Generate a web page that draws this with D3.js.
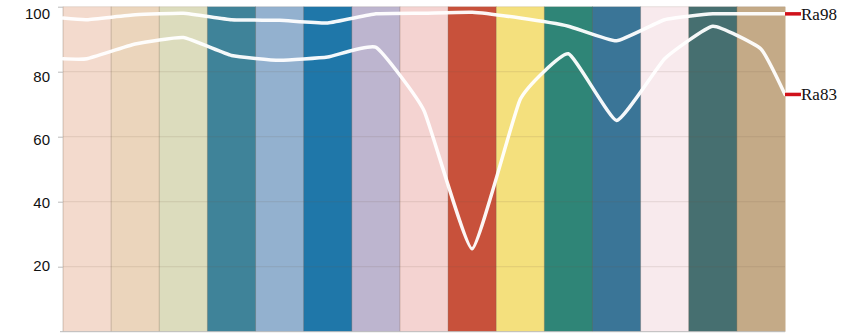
<!DOCTYPE html>
<html>
<head>
<meta charset="utf-8">
<script src="https://cdn.jsdelivr.net/npm/d3@7"></script>
<style>
  body { margin: 0; background: #fff; }
  svg { display: block; }
</style>
</head>
<body>
<svg></svg>
<script>
// colour samples, one band each
var samples = ['s1', 's2', 's3', 's4', 's5', 's6', 's7', 's8', 's9', 's10', 's11', 's12', 's13', 's14', 's15'];
var sampleColors = ['#f3dacd', '#ebd5bc', '#dcdcbd', '#3f8399', '#93b1cf', '#1f77a9', '#bdb5cf', '#f4d3d1',
    '#c8513b', '#f4e07d', '#2f8577', '#3a7597', '#f8eaed', '#466f70', '#c4aa87'];

// rendering index per sample (band centre), plus value at the plot edges
var ra98 = [96, 97.5, 98, 96, 95.8, 95, 97.8, 98, 98.3, 96.5, 94, 89.5, 96, 97.8, 97.8];
var ra98Edges = [96.5, 97.8];
var ra83 = [84, 88.5, 90.5, 85, 83.5, 84.5, 87.5, 68, 25.5, 71.5, 85.5, 65, 84, 94, 87];
var ra83Edges = [84, 73];

var yTicks = [20, 40, 60, 80, 100];
var seriesNames = ['Ra98', 'Ra83'];

var svgWidth = 842, svgHeight = 336;
var svg = d3.select('svg').attr('width', svgWidth).attr('height', svgHeight);

var x = d3.scaleBand().domain(samples).range([63, 785]).paddingInner(0).paddingOuter(0);
var y = d3.scaleLinear().domain([0, 100]).range([331.7, 6.7]);
// tick labels sit a little off their ticks in the original
var yLabel = d3.scaleLinear().domain([20, 100]).range([266, 14]);

// bands
svg.append('g')
    .selectAll('rect')
    .data(samples)
    .join('rect')
    .attr('x', d => x(d))
    .attr('y', y(100))
    .attr('width', x.bandwidth() + 0.5)
    .attr('height', y(0) - y(100))
    .attr('fill', (d, i) => sampleColors[i]);

// faint grid
svg.append('g')
    .selectAll('line')
    .data(yTicks)
    .join('line')
    .attr('x1', 63).attr('x2', 785)
    .attr('y1', d => y(d)).attr('y2', d => y(d))
    .attr('stroke', 'rgba(110,90,70,0.15)')
    .attr('stroke-width', 1);
svg.append('g')
    .selectAll('line')
    .data(samples)
    .join('line')
    .attr('x1', d => x(d)).attr('x2', d => x(d))
    .attr('y1', y(100)).attr('y2', y(0))
    .attr('stroke', 'rgba(110,90,70,0.3)')
    .attr('stroke-width', 1);

// y axis
var yAxis = svg.append('g')
    .attr('transform', 'translate(63,0)')
    .call(d3.axisLeft(y).tickValues(yTicks).tickSize(5).tickPadding(8));
yAxis.select('.domain').remove();
yAxis.selectAll('.tick line').attr('stroke', '#bbb');
yAxis.selectAll('.tick text')
    .attr('fill', '#111')
    .attr('y', d => yLabel(d) - y(d))
    .style('font-family', '"Liberation Sans", Arial, sans-serif')
    .style('font-size', '15px');

// bottom line
svg.append('line')
    .attr('x1', 60).attr('x2', 785)
    .attr('y1', y(0)).attr('y2', y(0))
    .attr('stroke', '#bbb');

// lines
function points(vals, edges) {
    var pts = [{ px: x.range()[0], v: edges[0] }];
    vals.forEach(function (v, i) {
        pts.push({ px: x(samples[i]) + x.bandwidth() / 2, v: v });
    });
    pts.push({ px: x.range()[1], v: edges[1] });
    return pts;
}

var line = d3.line()
    .x(d => d.px)
    .y(d => y(d.v))
    .curve(d3.curveCardinal.tension(0.6));

var series = [points(ra98, ra98Edges), points(ra83, ra83Edges)];

svg.append('g')
    .selectAll('path')
    .data(series)
    .join('path')
    .attr('d', line)
    .attr('fill', 'none')
    .attr('stroke', '#fff')
    .attr('stroke-width', 3.5)
    .attr('stroke-linejoin', 'round')
    .attr('stroke-linecap', 'round')
    .attr('opacity', 0.95);

// end labels
var labels = svg.append('g')
    .selectAll('g')
    .data(series)
    .join('g')
    .attr('transform', d => 'translate(785,' + y(d[d.length - 1].v) + ')');
labels.append('line')
    .attr('x1', 0).attr('x2', 16)
    .attr('stroke', '#d0121b')
    .attr('stroke-width', 3.5);
labels.append('text')
    .attr('x', 16)
    .attr('dy', '0.35em')
    .style('font-family', '"Liberation Serif", "Times New Roman", serif')
    .style('font-size', '17px')
    .attr('fill', '#111')
    .text((d, i) => seriesNames[i]);
</script>
</body>
</html>
